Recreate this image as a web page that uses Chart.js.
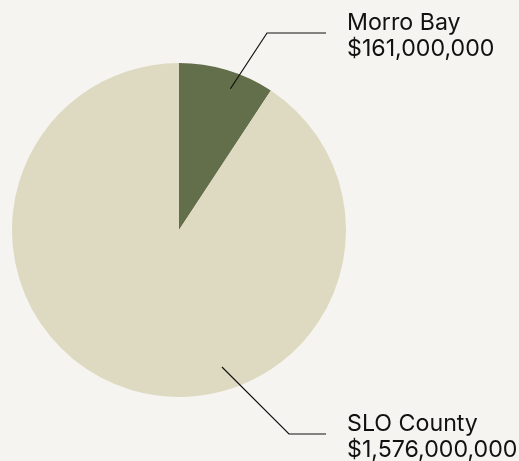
<!DOCTYPE html>
<html>
<head>
<meta charset="utf-8">
<script src="https://cdn.jsdelivr.net/npm/chart.js@4.4.1/dist/chart.umd.min.js"></script>
<style>
  html, body { margin: 0; padding: 0; background: #f5f4f0; }
  #wrap { width: 519px; height: 461px; }
</style>
</head>
<body>
<div id="wrap"><canvas id="pie" width="519" height="461"></canvas></div>
<script>
const regions = ['Morro Bay', 'SLO County'];
const amounts = [161000000, 1576000000];
const sliceColors = ['#636e4a', '#dedac1'];

const fmt = v => '$' + v.toLocaleString('en-US');

// leader lines: anchor on the slice (angle deg, fraction of radius), elbow and end offsets from centre
const callouts = [
  { angle: -70, depth: 0.9, elbow: [88, -197], endX: 147, textX: 168 },
  { angle: 72.6, depth: 0.86, elbow: [110, 204], endX: 147, textX: 168 },
];

const calloutPlugin = {
  id: 'callouts',
  afterDraw(chart) {
    const ctx = chart.ctx;
    const arcs = chart.getDatasetMeta(0).data;
    ctx.save();
    arcs.forEach((arc, i) => {
      const c = callouts[i];
      const r = arc.outerRadius;
      const a = c.angle * Math.PI / 180;
      const x0 = arc.x + Math.cos(a) * r * c.depth;
      const y0 = arc.y + Math.sin(a) * r * c.depth;
      const ex = arc.x + c.elbow[0];
      const ey = arc.y + c.elbow[1];
      ctx.beginPath();
      ctx.moveTo(x0, y0);
      ctx.lineTo(ex, ey);
      ctx.lineTo(arc.x + c.endX, ey);
      ctx.strokeStyle = '#111';
      ctx.lineWidth = 1.2;
      ctx.stroke();

      ctx.fillStyle = '#111';
      ctx.font = '23.2px Inter, "Liberation Sans", sans-serif';
      ctx.textBaseline = 'alphabetic';
      ctx.textAlign = 'left';
      ctx.fillText(regions[i], arc.x + c.textX, ey - 3);
      ctx.fillText(fmt(amounts[i]), arc.x + c.textX, ey + 22.5);
    });
    ctx.restore();
  }
};

new Chart(document.getElementById('pie'), {
  type: 'pie',
  data: {
    labels: regions,
    datasets: [{
      data: amounts,
      backgroundColor: sliceColors,
      borderWidth: 0,
    }],
  },
  options: {
    responsive: false,
    animation: false,
    layout: { padding: { left: 12, right: 173, top: 63, bottom: 64 } },
    plugins: {
      legend: { display: false },
      tooltip: { enabled: false },
    },
  },
  plugins: [calloutPlugin],
});
</script>
</body>
</html>
